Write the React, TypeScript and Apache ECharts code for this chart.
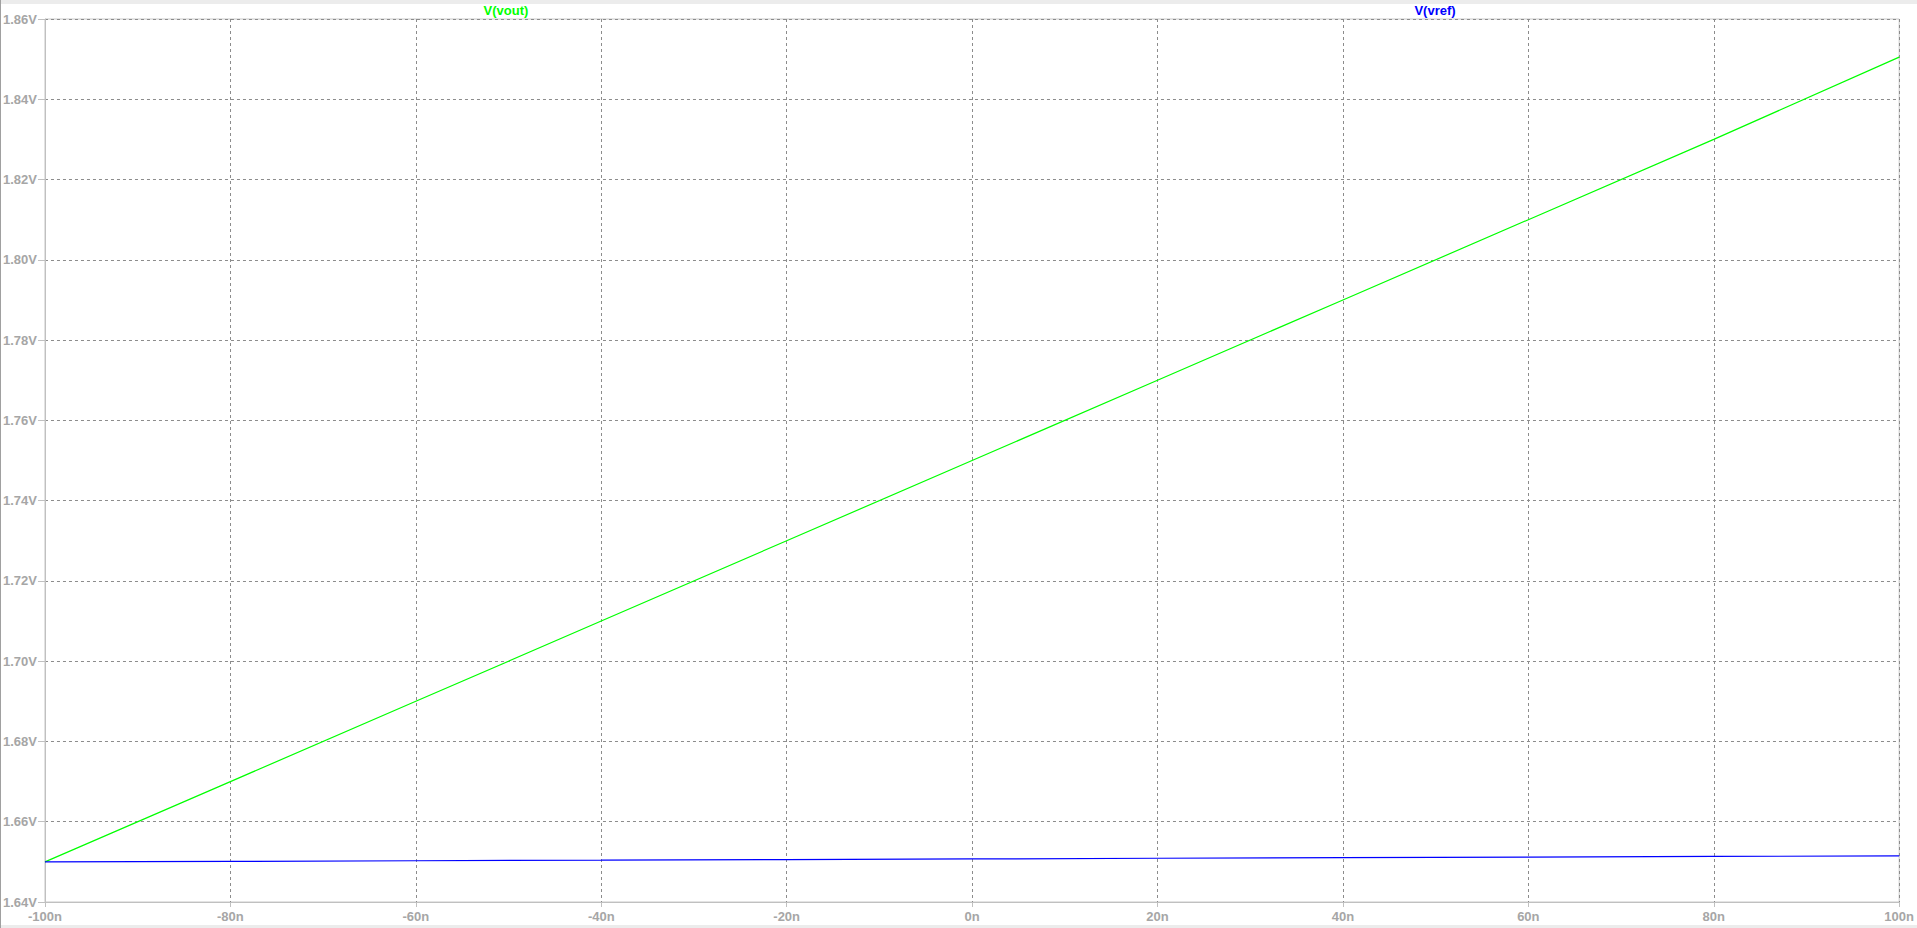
import React, { useEffect, useRef } from "react";
import * as echarts from "echarts";

const timeNs = [-100, -80, -60, -40, -20, 0, 20, 40, 60, 80, 100];
const vout = [1.65, 1.67, 1.69, 1.71, 1.73, 1.75, 1.77, 1.79, 1.81, 1.83, 1.8505];
const vref = [1.65, 1.65012, 1.65028, 1.65042, 1.65058, 1.65072, 1.6509, 1.65105, 1.6512, 1.65135, 1.6515];
const seriesNames = ["V(vout)", "V(vref)"];
const seriesColors = ["#00ff00", "#0000ff"];

const FONT = "'Liberation Sans', Arial, sans-serif";
const LABEL = "#a6a6a6";

export default function App() {
  const ref = useRef<HTMLDivElement>(null);
  useEffect(() => {
    document.body.style.margin = "0";
    const chart = echarts.init(ref.current!, undefined, { renderer: "svg" });
    chart.setOption({
      animation: false,
      backgroundColor: "#ffffff",
      grid: { left: 42, right: 17, top: 19, bottom: 26, show: true, borderColor: "#c8c8c8", borderWidth: 1 },
      xAxis: {
        type: "value",
        min: -100,
        max: 100,
        interval: 20,
        axisLine: { show: true, onZero: false, lineStyle: { color: "#c0c0c0" } },
        axisTick: { show: true, length: 5, lineStyle: { color: "#c0c0c0" } },
        axisLabel: {
          color: LABEL, fontFamily: FONT, fontWeight: "bold", fontSize: 13, margin: 8,
          formatter: (v: number) => `${Math.round(v)}n`,
        },
        splitLine: { show: true, lineStyle: { color: "#8c8c8c", type: [3, 3], width: 1 } },
      },
      yAxis: {
        type: "value",
        min: 1.64,
        max: 1.86,
        interval: 0.02,
        axisLine: { show: true, onZero: false, lineStyle: { color: "#c0c0c0" } },
        axisTick: { show: true, length: 7, lineStyle: { color: "#c0c0c0" } },
        axisLabel: {
          color: LABEL, fontFamily: FONT, fontWeight: "bold", fontSize: 13, margin: 8,
          formatter: (v: number) => `${v.toFixed(2)}V`,
        },
        splitLine: { show: true, lineStyle: { color: "#8c8c8c", type: [3, 3], width: 1 } },
      },
      graphic: [
        { type: "rect", left: 0, top: 0, shape: { width: 1917, height: 4 }, style: { fill: "#ececec" }, silent: true },
        { type: "rect", left: 0, top: 925, shape: { width: 1917, height: 3 }, style: { fill: "#ececec" }, silent: true },
        { type: "rect", left: 0, top: 0, shape: { width: 1, height: 928 }, style: { fill: "#a0a0a0" }, silent: true },
        {
          type: "text", x: 506, y: 10,
          style: { text: seriesNames[0], fill: seriesColors[0], font: `bold 13px ${FONT}`, textAlign: "center", textVerticalAlign: "middle" },
        },
        {
          type: "text", x: 1435, y: 10,
          style: { text: seriesNames[1], fill: seriesColors[1], font: `bold 13px ${FONT}`, textAlign: "center", textVerticalAlign: "middle" },
        },
      ],
      series: [
        {
          name: seriesNames[0], type: "line", showSymbol: false, symbol: "none",
          data: timeNs.map((t, i) => [t, vout[i]]),
          lineStyle: { color: seriesColors[0], width: 1.2 },
        },
        {
          name: seriesNames[1], type: "line", showSymbol: false, symbol: "none",
          data: timeNs.map((t, i) => [t, vref[i]]),
          lineStyle: { color: seriesColors[1], width: 1.2 },
        },
      ],
    });
    return () => chart.dispose();
  }, []);
  return <div ref={ref} style={{ position: "absolute", left: 0, top: 0, width: 1917, height: 928 }} />;
}
